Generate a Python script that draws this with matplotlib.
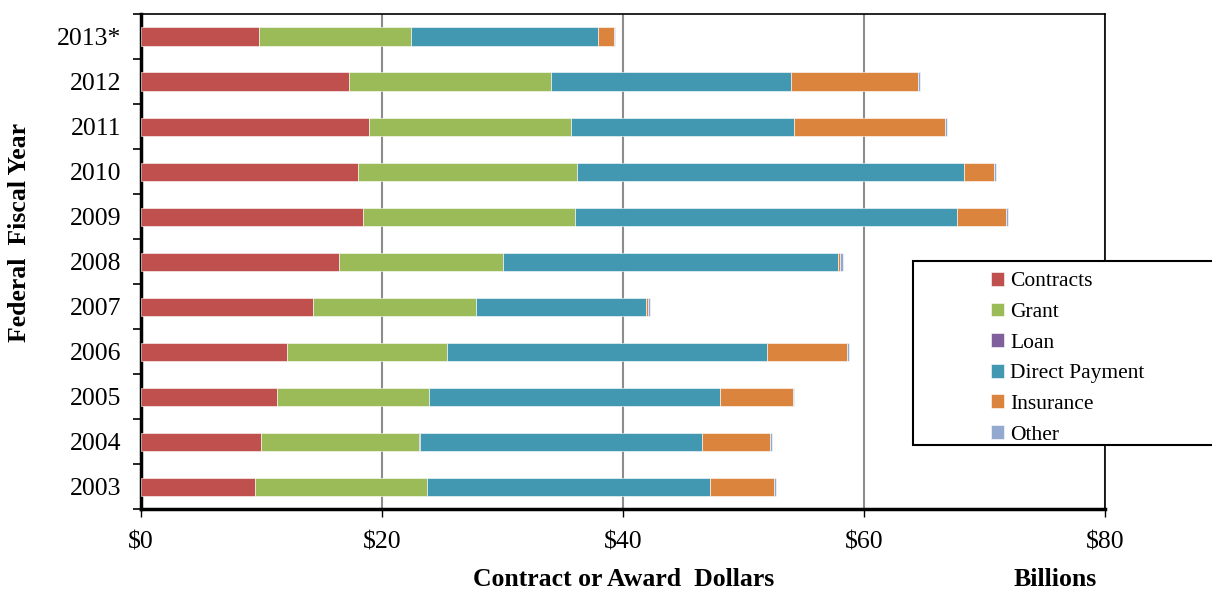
import matplotlib.pyplot as plt
from matplotlib.patches import Rectangle
import numpy as np

plt.rcParams['font.family'] = ['Liberation Serif', 'DejaVu Serif']

# Data (billions of dollars), bottom to top
years = ['2003', '2004', '2005', '2006', '2007', '2008', '2009', '2010', '2011', '2012', '2013*']
contracts = [9.46, 9.96, 11.3, 12.1, 14.3, 16.4, 18.4, 18.0, 18.9, 17.3, 9.8]
grant = [14.24, 13.14, 12.6, 13.3, 13.5, 13.6, 17.6, 18.2, 16.8, 16.7, 12.6]
loan = [0.02, 0.02, 0.02, 0.02, 0.02, 0.02, 0.02, 0.02, 0.02, 0.02, 0.02]
direct_payment = [23.5, 23.45, 24.15, 26.5, 14.1, 27.8, 31.7, 32.1, 18.5, 19.9, 15.5]
insurance = [5.35, 5.65, 6.0, 6.65, 0.17, 0.15, 4.1, 2.5, 12.5, 10.6, 1.3]
other = [0.15, 0.15, 0.15, 0.15, 0.15, 0.25, 0.15, 0.15, 0.15, 0.15, 0.15]

series = [('Contracts', contracts, '#C0504D'),
          ('Grant', grant, '#9BBB59'),
          ('Loan', loan, '#7F5F9C'),
          ('Direct Payment', direct_payment, '#4198B0'),
          ('Insurance', insurance, '#DB843D'),
          ('Other', other, '#93A9CF')]

fig = plt.figure(figsize=(12.12, 5.9), dpi=100)
ax = fig.add_axes([141/1212, 1 - 509/590, (1105 - 141)/1212, (509 - 14)/590])

y = np.arange(len(years))
left = np.zeros(len(years))
for name, vals, col in series:
    ax.barh(y, vals, left=left, height=0.4, color=col, edgecolor='white',
            linewidth=0.4, label=name, zorder=3)
    left += np.array(vals)

ax.set_xlim(0, 80)
ax.set_ylim(-0.5, len(years) - 0.5)
ax.set_xticks([0, 20, 40, 60, 80])
ax.set_xticklabels(['$0', '$20', '$40', '$60', '$80'], fontsize=18.5)
ax.set_yticks(y)
ax.set_yticklabels(years, fontsize=18.5)
ax.set_yticks(np.arange(-0.5, len(years)), minor=True)
ax.tick_params(axis='y', which='major', length=0, pad=14)
ax.tick_params(axis='y', which='minor', length=6, width=1.2, direction='out')
ax.tick_params(axis='x', length=6, width=1, direction='out', pad=10)
ax.grid(axis='x', color='#8c8c8c', linewidth=1.5, zorder=0)

for s in ['left', 'bottom']:
    ax.spines[s].set_linewidth(2.5)
for s in ['top', 'right']:
    ax.spines[s].set_linewidth(1.2)

fig.text(624/1212, 1 - 580/590, 'Contract or Award  Dollars', ha='center', va='center',
         fontsize=18.5, fontweight='bold')
fig.text(1055/1212, 1 - 580/590, 'Billions', ha='center', va='center',
         fontsize=18.5, fontweight='bold')
fig.text(20/1212, 1 - 232/590, 'Federal  Fiscal Year', ha='center', va='center',
         rotation=90, fontsize=18.5, fontweight='bold')

# legend box (extends past the right edge like the original)
fig.patches.append(Rectangle((913/1212, 1 - 445/590), 320/1212, 184/590,
                             transform=fig.transFigure, facecolor='white',
                             edgecolor='black', linewidth=1.5, zorder=5))
handles, labels = ax.get_legend_handles_labels()
leg = fig.legend(handles, labels, loc='upper left', bbox_to_anchor=(991/1212, 1 - 272/590),
                 bbox_transform=fig.transFigure, fontsize=15.5, frameon=False,
                 handlelength=0.6, handleheight=0.6, handletextpad=0.3,
                 labelspacing=0.52, borderpad=0, borderaxespad=0)
leg.set_zorder(6)

fig.savefig('out.png', dpi=100)
